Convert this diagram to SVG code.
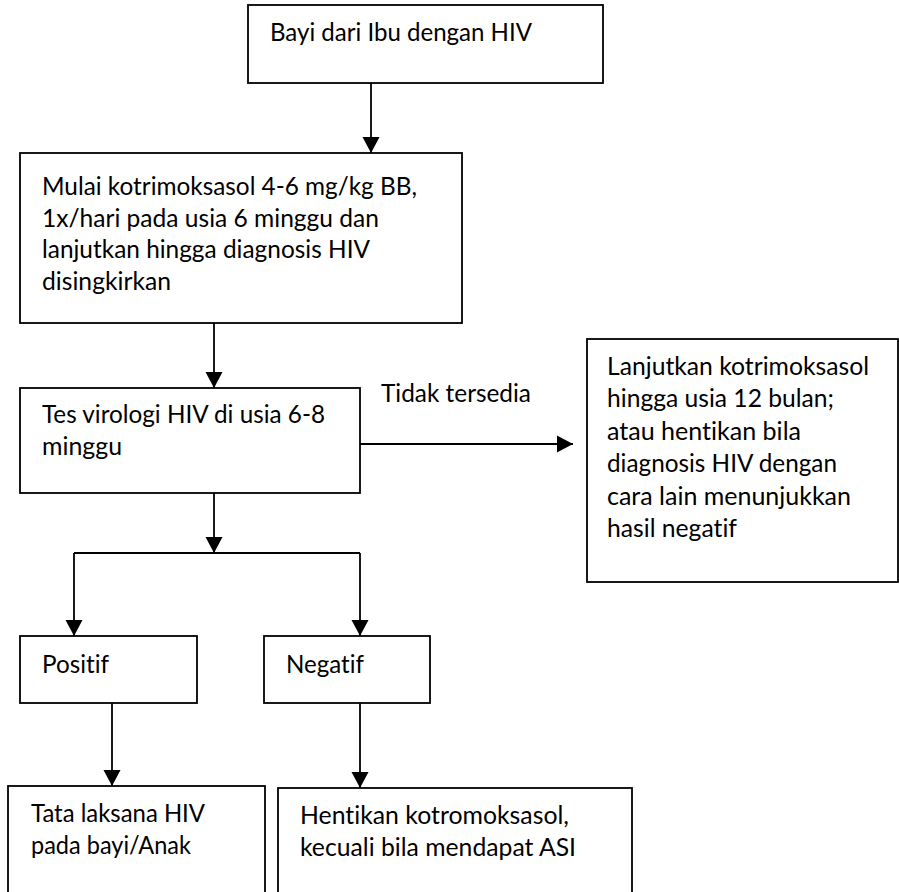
<svg xmlns="http://www.w3.org/2000/svg" width="899" height="892" viewBox="0 0 899 892">
<style>
.box{fill:#fff;stroke:#000;stroke-width:1.8}
.t{font-family:Lato,"Open Sans","Liberation Sans",sans-serif;font-size:25.5px;fill:#000;font-variant-ligatures:none;font-feature-settings:"liga" 0,"clig" 0}
.c{fill:none;stroke:#000;stroke-width:1.8}
</style>
<defs>
<marker id="ah" markerUnits="userSpaceOnUse" markerWidth="17" markerHeight="18" refX="16" refY="9" orient="auto">
<path d="M0,0.5 L16,9 L0,17.5 Z" fill="#000"/>
</marker>
</defs>
<rect width="899" height="892" fill="#fff"/>
<g id="connectors">
<line class="c" x1="371" y1="83" x2="371" y2="153" marker-end="url(#ah)"/>
<line class="c" x1="214" y1="323" x2="214" y2="388" marker-end="url(#ah)"/>
<line class="c" x1="360" y1="444" x2="573" y2="444" marker-end="url(#ah)"/>
<line class="c" x1="214" y1="493" x2="214" y2="553" marker-end="url(#ah)"/>
<polyline class="c" points="74,553 360,553"/>
<line class="c" x1="74" y1="553" x2="74" y2="636" marker-end="url(#ah)"/>
<line class="c" x1="360" y1="553" x2="360" y2="636" marker-end="url(#ah)"/>
<line class="c" x1="112" y1="703" x2="112" y2="786" marker-end="url(#ah)"/>
<line class="c" x1="360" y1="703" x2="360" y2="788" marker-end="url(#ah)"/>
<text class="t" x="381" y="402" textLength="150" lengthAdjust="spacingAndGlyphs">Tidak tersedia</text>
</g>
<g id="n1">
<rect class="box" x="248" y="5" width="355" height="78"/>
<text class="t" x="270" y="41" textLength="262" lengthAdjust="spacingAndGlyphs">Bayi dari Ibu dengan HIV</text>
</g>
<g id="n2">
<rect class="box" x="20" y="153" width="442" height="170"/>
<text class="t" x="42" y="195" textLength="375" lengthAdjust="spacingAndGlyphs">Mulai kotrimoksasol 4-6 mg/kg BB,</text>
<text class="t" x="42" y="227" textLength="337" lengthAdjust="spacingAndGlyphs">1x/hari pada usia 6 minggu dan</text>
<text class="t" x="42" y="258" textLength="328" lengthAdjust="spacingAndGlyphs">lanjutkan hingga diagnosis HIV</text>
<text class="t" x="42" y="290" textLength="129" lengthAdjust="spacingAndGlyphs">disingkirkan</text>
</g>
<g id="n3">
<rect class="box" x="20" y="388" width="340" height="105"/>
<text class="t" x="42" y="423" textLength="283" lengthAdjust="spacingAndGlyphs">Tes virologi HIV di usia 6-8</text>
<text class="t" x="42" y="455" textLength="80" lengthAdjust="spacingAndGlyphs">minggu</text>
</g>
<g id="n4">
<rect class="box" x="587" y="339" width="311" height="243"/>
<text class="t" x="607" y="375" textLength="262" lengthAdjust="spacingAndGlyphs">Lanjutkan kotrimoksasol</text>
<text class="t" x="607" y="407" textLength="227" lengthAdjust="spacingAndGlyphs">hingga usia 12 bulan;</text>
<text class="t" x="607" y="440" textLength="194" lengthAdjust="spacingAndGlyphs">atau hentikan bila</text>
<text class="t" x="607" y="472" textLength="230" lengthAdjust="spacingAndGlyphs">diagnosis HIV dengan</text>
<text class="t" x="607" y="505" textLength="244" lengthAdjust="spacingAndGlyphs">cara lain menunjukkan</text>
<text class="t" x="607" y="537" textLength="130" lengthAdjust="spacingAndGlyphs">hasil negatif</text>
</g>
<g id="n5">
<rect class="box" x="20" y="636" width="177" height="67"/>
<text class="t" x="42" y="673" textLength="67" lengthAdjust="spacingAndGlyphs">Positif</text>
</g>
<g id="n6">
<rect class="box" x="264" y="636" width="166" height="67"/>
<text class="t" x="286" y="673" textLength="78" lengthAdjust="spacingAndGlyphs">Negatif</text>
</g>
<g id="n7">
<rect class="box" x="8" y="786" width="257" height="120"/>
<text class="t" x="31" y="822" textLength="174" lengthAdjust="spacingAndGlyphs">Tata laksana HIV</text>
<text class="t" x="31" y="854" textLength="160" lengthAdjust="spacingAndGlyphs">pada bayi/Anak</text>
</g>
<g id="n8">
<rect class="box" x="278" y="788" width="354" height="120"/>
<text class="t" x="300" y="824" textLength="269" lengthAdjust="spacingAndGlyphs">Hentikan kotromoksasol,</text>
<text class="t" x="300" y="856" textLength="276" lengthAdjust="spacingAndGlyphs">kecuali bila mendapat ASI</text>
</g>
</svg>
